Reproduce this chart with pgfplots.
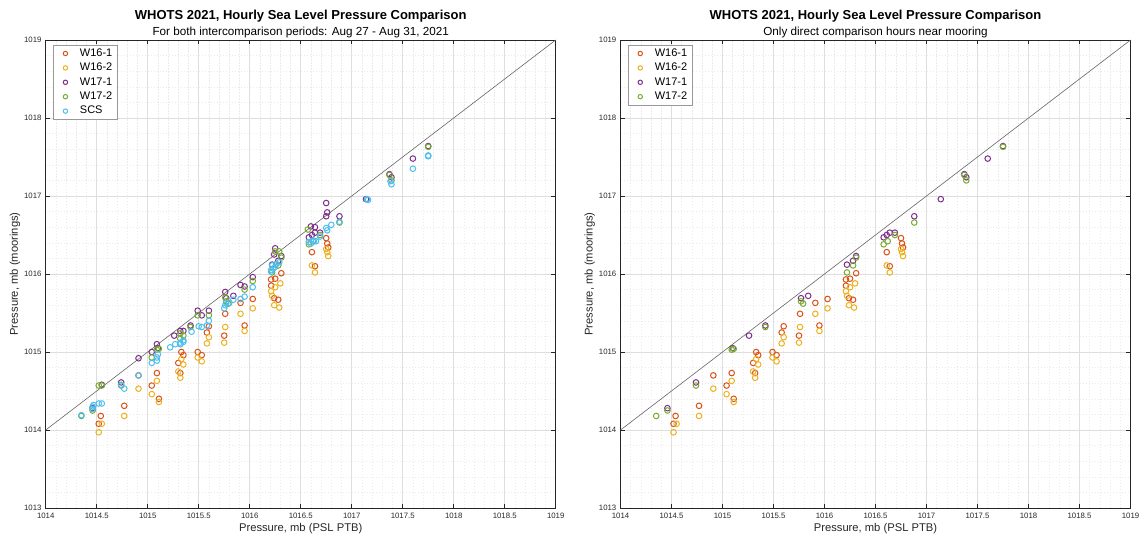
\documentclass[border=0pt]{standalone}
\usepackage{pgfplots}
\usepackage{pgfplotstable}
\pgfplotsset{compat=1.18}
\usepackage{fontspec}
\setmainfont{Liberation Sans}

\definecolor{cA}{rgb}{0.850,0.325,0.098}
\definecolor{cB}{rgb}{0.929,0.694,0.125}
\definecolor{cC}{rgb}{0.494,0.184,0.556}
\definecolor{cD}{rgb}{0.466,0.674,0.188}
\definecolor{cE}{rgb}{0.301,0.745,0.933}

% W16-1 (same in both panels)
\pgfplotstableread{
x y
1014.54 1014.18
1014.52 1014.08
1014.77 1014.31
1014.91 1014.70
1015.04 1014.57
1015.09 1014.73
1015.11 1014.40
1015.33 1015.00
1015.35 1014.96
1015.30 1014.86
1015.32 1014.73
1015.49 1015.00
1015.53 1014.96
1015.58 1015.25
1015.60 1015.33
1015.76 1015.49
1015.75 1015.21
1015.91 1015.63
1015.95 1015.34
1016.03 1015.68
1016.31 1016.01
1016.21 1015.93
1016.25 1015.94
1016.21 1015.85
1016.24 1015.69
1016.28 1015.67
1016.75 1016.46
1016.76 1016.39
1016.77 1016.34
1016.61 1016.28
1016.64 1016.10
}\wA

% W16-2
\pgfplotstableread{
x y
1014.55 1014.08
1014.52 1013.97
1014.77 1014.18
1014.91 1014.53
1015.04 1014.46
1015.09 1014.63
1015.11 1014.36
1015.33 1014.91
1015.35 1014.84
1015.30 1014.75
1015.32 1014.67
1015.49 1014.93
1015.53 1014.88
1015.58 1015.11
1015.60 1015.19
1015.75 1015.12
1015.76 1015.32
1015.91 1015.49
1015.95 1015.27
1016.03 1015.56
1016.30 1015.88
1016.25 1015.83
1016.21 1015.78
1016.22 1015.72
1016.24 1015.60
1016.29 1015.57
1016.75 1016.32
1016.76 1016.28
1016.77 1016.23
1016.61 1016.11
1016.64 1016.02
}\wB

% W17-1, direct comparison hours
\pgfplotstableread{
x y
1014.46 1014.28
1014.74 1014.61
1015.10 1015.05
1015.26 1015.21
1015.42 1015.34
1015.77 1015.69
1015.84 1015.72
1016.31 1016.23
1016.28 1016.17
1016.22 1016.12
1016.58 1016.47
1016.61 1016.50
1016.64 1016.53
1016.69 1016.53
1016.88 1016.74
1017.14 1016.96
1017.37 1017.28
1017.39 1017.24
1017.60 1017.48
1017.75 1017.64
}\wC

% W17-1, other hours
\pgfplotstableread{
x y
1014.55 1014.58
1014.91 1014.92
1015.04 1015.00
1015.09 1015.10
1015.32 1015.27
1015.35 1015.27
1015.49 1015.53
1015.53 1015.47
1015.60 1015.53
1015.76 1015.77
1015.91 1015.86
1015.95 1015.84
1016.03 1015.96
1016.25 1016.33
1016.24 1016.25
1016.60 1016.61
1016.64 1016.60
1016.75 1016.91
1016.76 1016.79
1016.75 1016.74
}\wCx

% W17-2, direct comparison hours
\pgfplotstableread{
x y
1014.35 1014.18
1014.46 1014.25
1014.74 1014.57
1015.09 1015.03
1015.11 1015.04
1015.42 1015.32
1015.77 1015.65
1015.79 1015.62
1016.31 1016.21
1016.28 1016.11
1016.22 1016.02
1016.58 1016.38
1016.62 1016.42
1016.69 1016.50
1016.88 1016.66
1017.37 1017.27
1017.39 1017.20
1017.75 1017.63
}\wD

% W17-2, other hours
\pgfplotstableread{
x y
1014.52 1014.57
1014.55 1014.57
1015.04 1014.93
1015.32 1015.24
1015.35 1015.21
1015.32 1015.17
1015.49 1015.47
1015.60 1015.47
1015.76 1015.70
1015.95 1015.80
1016.03 1015.91
1016.25 1016.29
1016.29 1016.29
1016.57 1016.57
}\wDx

% SCS
\pgfplotstableread{
x y
1014.35 1014.19
1014.46 1014.27
1014.46 1014.30
1014.47 1014.32
1014.52 1014.34
1014.55 1014.34
1014.74 1014.58
1014.77 1014.53
1014.91 1014.70
1015.04 1014.86
1015.10 1014.97
1015.09 1014.93
1015.09 1014.89
1015.22 1015.06
1015.27 1015.10
1015.32 1015.12
1015.35 1015.15
1015.32 1015.10
1015.35 1015.13
1015.43 1015.26
1015.50 1015.33
1015.53 1015.32
1015.58 1015.34
1015.60 1015.40
1015.76 1015.60
1015.75 1015.56
1015.77 1015.63
1015.84 1015.67
1015.80 1015.63
1015.91 1015.68
1015.95 1015.71
1016.03 1015.83
1016.26 1016.13
1016.29 1016.15
1016.21 1016.05
1016.21 1016.03
1016.23 1016.07
1016.22 1016.11
1016.25 1016.09
1016.60 1016.39
1016.63 1016.42
1016.65 1016.42
1016.58 1016.41
1016.62 1016.43
1016.69 1016.48
1016.75 1016.59
1016.76 1016.56
1016.80 1016.63
1016.88 1016.67
1017.15 1016.96
1017.16 1016.95
1017.38 1017.19
1017.39 1017.15
1017.60 1017.35
1017.75 1017.52
1017.75 1017.51
}\wE

\pgfplotsset{
  whots/.style={
    scale only axis, width=510pt, height=468pt,
    xmin=1014, xmax=1019, ymin=1013, ymax=1019,
    xtick={1014,1014.5,1015,1015.5,1016,1016.5,1017,1017.5,1018,1018.5,1019},
    xticklabels={1014,1014.5,1015,1015.5,1016,1016.5,1017,1017.5,1018,1018.5,1019},
    ytick={1013,1014,1015,1016,1017,1018,1019},
    yticklabels={1013,1014,1015,1016,1017,1018,1019},
    minor x tick num=4, minor y tick num=4,
    grid=both,
    major grid style={draw=black!13, line width=0.5pt},
    minor grid style={draw=black!8, line width=0.45pt, dash pattern=on 1.5pt off 1.5pt},
    tick align=inside, major tick length=4.5pt, minor tick length=0pt,
    every tick/.style={draw=black!85, line width=0.5pt},
    axis line style={draw=black!85, line width=0.6pt},
    xticklabel style={font=\fontsize{7.8}{9}\selectfont, text=black!85, inner sep=0pt, yshift=-4.5pt},
    yticklabel style={font=\fontsize{7.8}{9}\selectfont, text=black!85, inner sep=0pt, xshift=-4pt},
    xlabel={Pressure, mb (PSL PTB)},
    ylabel={Pressure, mb (moorings)},
    xlabel style={font=\fontsize{11.2}{13}\selectfont, text=black!85, at={([yshift=-23pt]axis description cs:0.5,0)}, anchor=base},
    ylabel style={font=\fontsize{11.2}{13}\selectfont, text=black!85, at={([xshift=-30.7pt]axis description cs:0,0.5)}, anchor=center},
    legend cell align=left,
    legend style={at={(axis description cs:0,1)}, anchor=north west, xshift=7pt, yshift=-5pt,
      draw=black!40, line width=0.5pt, fill=white, font=\fontsize{11}{12}\selectfont,
      inner xsep=4pt, inner ysep=2pt, row sep=1.9pt, column sep=5pt,
      nodes={inner sep=1pt, text height=8pt, text depth=2.5pt}},
    legend image code/.code={\path (0pt,0pt) (16pt,0pt); \draw[##1, mark size=2.2pt] plot coordinates {(8pt,0pt)};},
  },
  pts/.style={only marks, mark=o, mark size=2.8pt, line width=1pt, mark options={solid}},
}

\begin{document}
\begin{tikzpicture}
\path[use as bounding box] (0,0) rectangle (1145pt,542pt);

\begin{axis}[whots, at={(45.7pt,34pt)}, anchor=south west]
\addplot[black!60, line width=0.6pt, forget plot] coordinates {(1014,1014) (1019,1019)};
\addplot[pts, draw=cA] table {\wA}; \addlegendentry{W16-1}
\addplot[pts, draw=cB] table {\wB}; \addlegendentry{W16-2}
\addplot[pts, draw=cC] table {\wC}; \addlegendentry{W17-1}
\addplot[pts, draw=cC, forget plot] table {\wCx};
\addplot[pts, draw=cD] table {\wD}; \addlegendentry{W17-2}
\addplot[pts, draw=cD, forget plot] table {\wDx};
\addplot[pts, draw=cE] table {\wE}; \addlegendentry{SCS}
\end{axis}

\begin{axis}[whots, at={(620.5pt,34pt)}, anchor=south west]
\addplot[black!60, line width=0.6pt, forget plot] coordinates {(1014,1014) (1019,1019)};
\addplot[pts, draw=cA] table {\wA}; \addlegendentry{W16-1}
\addplot[pts, draw=cB] table {\wB}; \addlegendentry{W16-2}
\addplot[pts, draw=cC] table {\wC}; \addlegendentry{W17-1}
\addplot[pts, draw=cD] table {\wD}; \addlegendentry{W17-2}
\end{axis}

\node[anchor=base, font=\bfseries\fontsize{13}{15}\selectfont] at (300.7pt,522pt) {WHOTS 2021, Hourly Sea Level Pressure Comparison};
\node[anchor=base, font=\fontsize{11.7}{14}\selectfont] at (300.7pt,506pt) {For both intercomparison periods: Aug 27 - Aug 31, 2021};
\node[anchor=base, font=\bfseries\fontsize{13}{15}\selectfont] at (875.5pt,522pt) {WHOTS 2021, Hourly Sea Level Pressure Comparison};
\node[anchor=base, font=\fontsize{11.7}{14}\selectfont] at (875.5pt,506pt) {Only direct comparison hours near mooring};
\end{tikzpicture}
\end{document}
